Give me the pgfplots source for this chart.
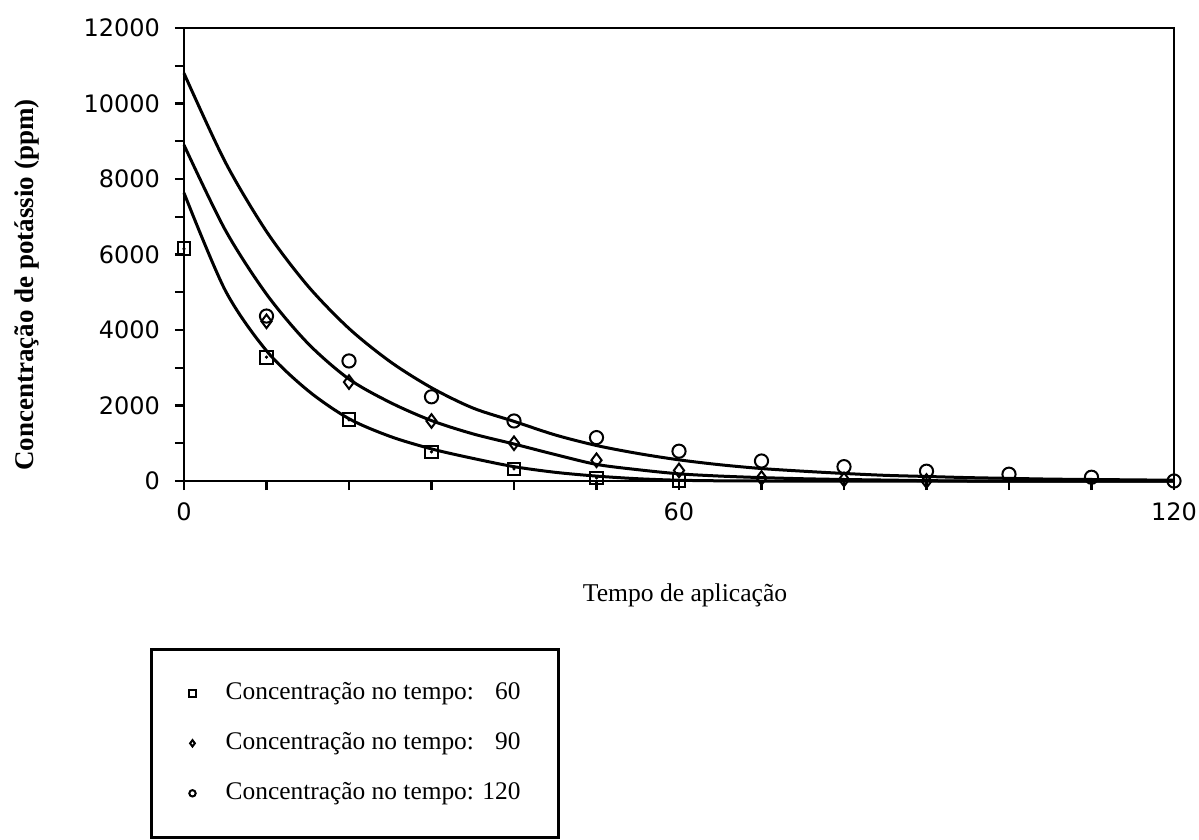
\documentclass[border=0pt]{standalone}
\usepackage{fontspec}
\setmainfont{Liberation Serif}
\newfontfamily\ticksf{DejaVu Sans}
\usepackage{pgfplots}
\pgfplotsset{compat=1.18}
\begin{document}
\begin{tikzpicture}
\path[use as bounding box] (-92pt,-179.5pt) rectangle (507.5pt,240.5pt);
\begin{axis}[
  at={(0,0)}, anchor=south west,
  scale only axis, width=495pt, height=226.5pt,
  xmin=0, xmax=120, ymin=0, ymax=12000,
  scaled y ticks=false, scaled x ticks=false,
  clip=false,
  axis line style={line width=1.3pt},
  tick style={line width=1.1pt, black},
  tick align=outside, major tick length=4.5pt, minor tick length=4.5pt,
  xtick={0,60,120}, xticklabels={0,60,120},
  minor xtick={10,20,30,40,50,70,80,90,100,110},
  ytick={0,2000,4000,6000,8000,10000,12000},
  yticklabels={0,2000,4000,6000,8000,10000,12000},
  minor ytick={1000,3000,5000,7000,9000,11000},
  xtick pos=bottom, ytick pos=left,
  ticklabel style={font=\ticksf\fontsize{12}{14}\selectfont},
  xticklabel style={yshift=-3pt},
  yticklabel style={xshift=-4pt},
  xlabel={Tempo de aplicação},
  ylabel={\textbf{Concentração de potássio (ppm)}},
  xlabel style={at={(axis description cs:0.5061,-0.2517)}, anchor=center, font=\fontsize{12.8}{15}\selectfont},
  ylabel style={at={(axis description cs:-0.1586,0.4327)}, anchor=center, font=\fontsize{13.5}{15}\selectfont},
  legend style={at={(axis description cs:-0.03434,-0.36865)}, anchor=north west,
    draw=black, line width=1.3pt, inner xsep=19pt, inner ysep=16pt,
    row sep=13pt, column sep=15pt, font=\fontsize{12.7}{15}\selectfont,
    nodes={inner sep=0pt, text height=9pt, text depth=3pt}},
  legend cell align=left,
  legend image code/.code={\draw[#1, mark size=1.6pt, line width=1.2pt] plot coordinates {(0pt,0pt)};},
]
% series 60 (squares)
\addplot[only marks, mark=square, mark size=3.2pt, mark options={line width=1pt, black}]
  coordinates {(0,6150) (10,3280) (20,1620) (30,770) (40,320) (50,80) (60,10)};
\addlegendentry{Concentração no tempo: \phantom{1}60}
% series 90 (diamonds)
\addplot[only marks, mark=diamond, mark size=3.4pt, mark options={line width=1pt, black}]
  coordinates {(10,4230) (20,2620) (30,1590) (40,1000) (50,550) (60,280) (70,80) (80,40) (90,0)};
\addlegendentry{Concentração no tempo: \phantom{1}90}
% series 120 (circles)
\addplot[only marks, mark=o, mark size=3.3pt, mark options={line width=1pt, black}]
  coordinates {(10,4370) (20,3180) (30,2230) (40,1590) (50,1150) (60,790) (70,530) (80,380) (90,260) (100,180) (110,100) (120,0)};
\addlegendentry{Concentração no tempo: 120}
% centre dots of squares
\addplot[forget plot, only marks, mark=*, mark size=0.6pt, black]
  coordinates {(0,6150) (10,3280) (20,1620) (30,770) (40,320) (50,80) (60,10)};
% fitted curves
\addplot[forget plot, black, line width=1.5pt, smooth] coordinates {
 (0,10800) (5,8450) (10,6610) (15,5170) (20,4040) (25,3160) (30,2470) (35,1935) (40,1580)
 (45,1220) (50,940) (55,730) (60,560) (65,430) (70,330) (75,260) (80,200) (85,150) (90,120)
 (95,90) (100,70) (105,50) (110,40) (115,30) (120,20)};
\addplot[forget plot, black, line width=1.5pt, smooth] coordinates {
 (0,8900) (5,6650) (10,4950) (15,3650) (20,2700) (25,2080) (30,1600) (35,1250) (40,980)
 (45,700) (50,440) (55,300) (60,190) (65,130) (70,90) (75,60) (80,40) (85,25) (90,10)
 (95,0) (100,0) (110,0) (120,0)};
\addplot[forget plot, black, line width=1.5pt, smooth] coordinates {
 (0,7630) (5,5050) (10,3450) (15,2400) (20,1650) (25,1180) (30,850) (35,600) (40,380)
 (45,230) (50,130) (55,60) (60,20) (65,5) (70,0) (80,0) (90,0) (100,0) (110,0) (120,0)};
\end{axis}
\end{tikzpicture}
\end{document}
